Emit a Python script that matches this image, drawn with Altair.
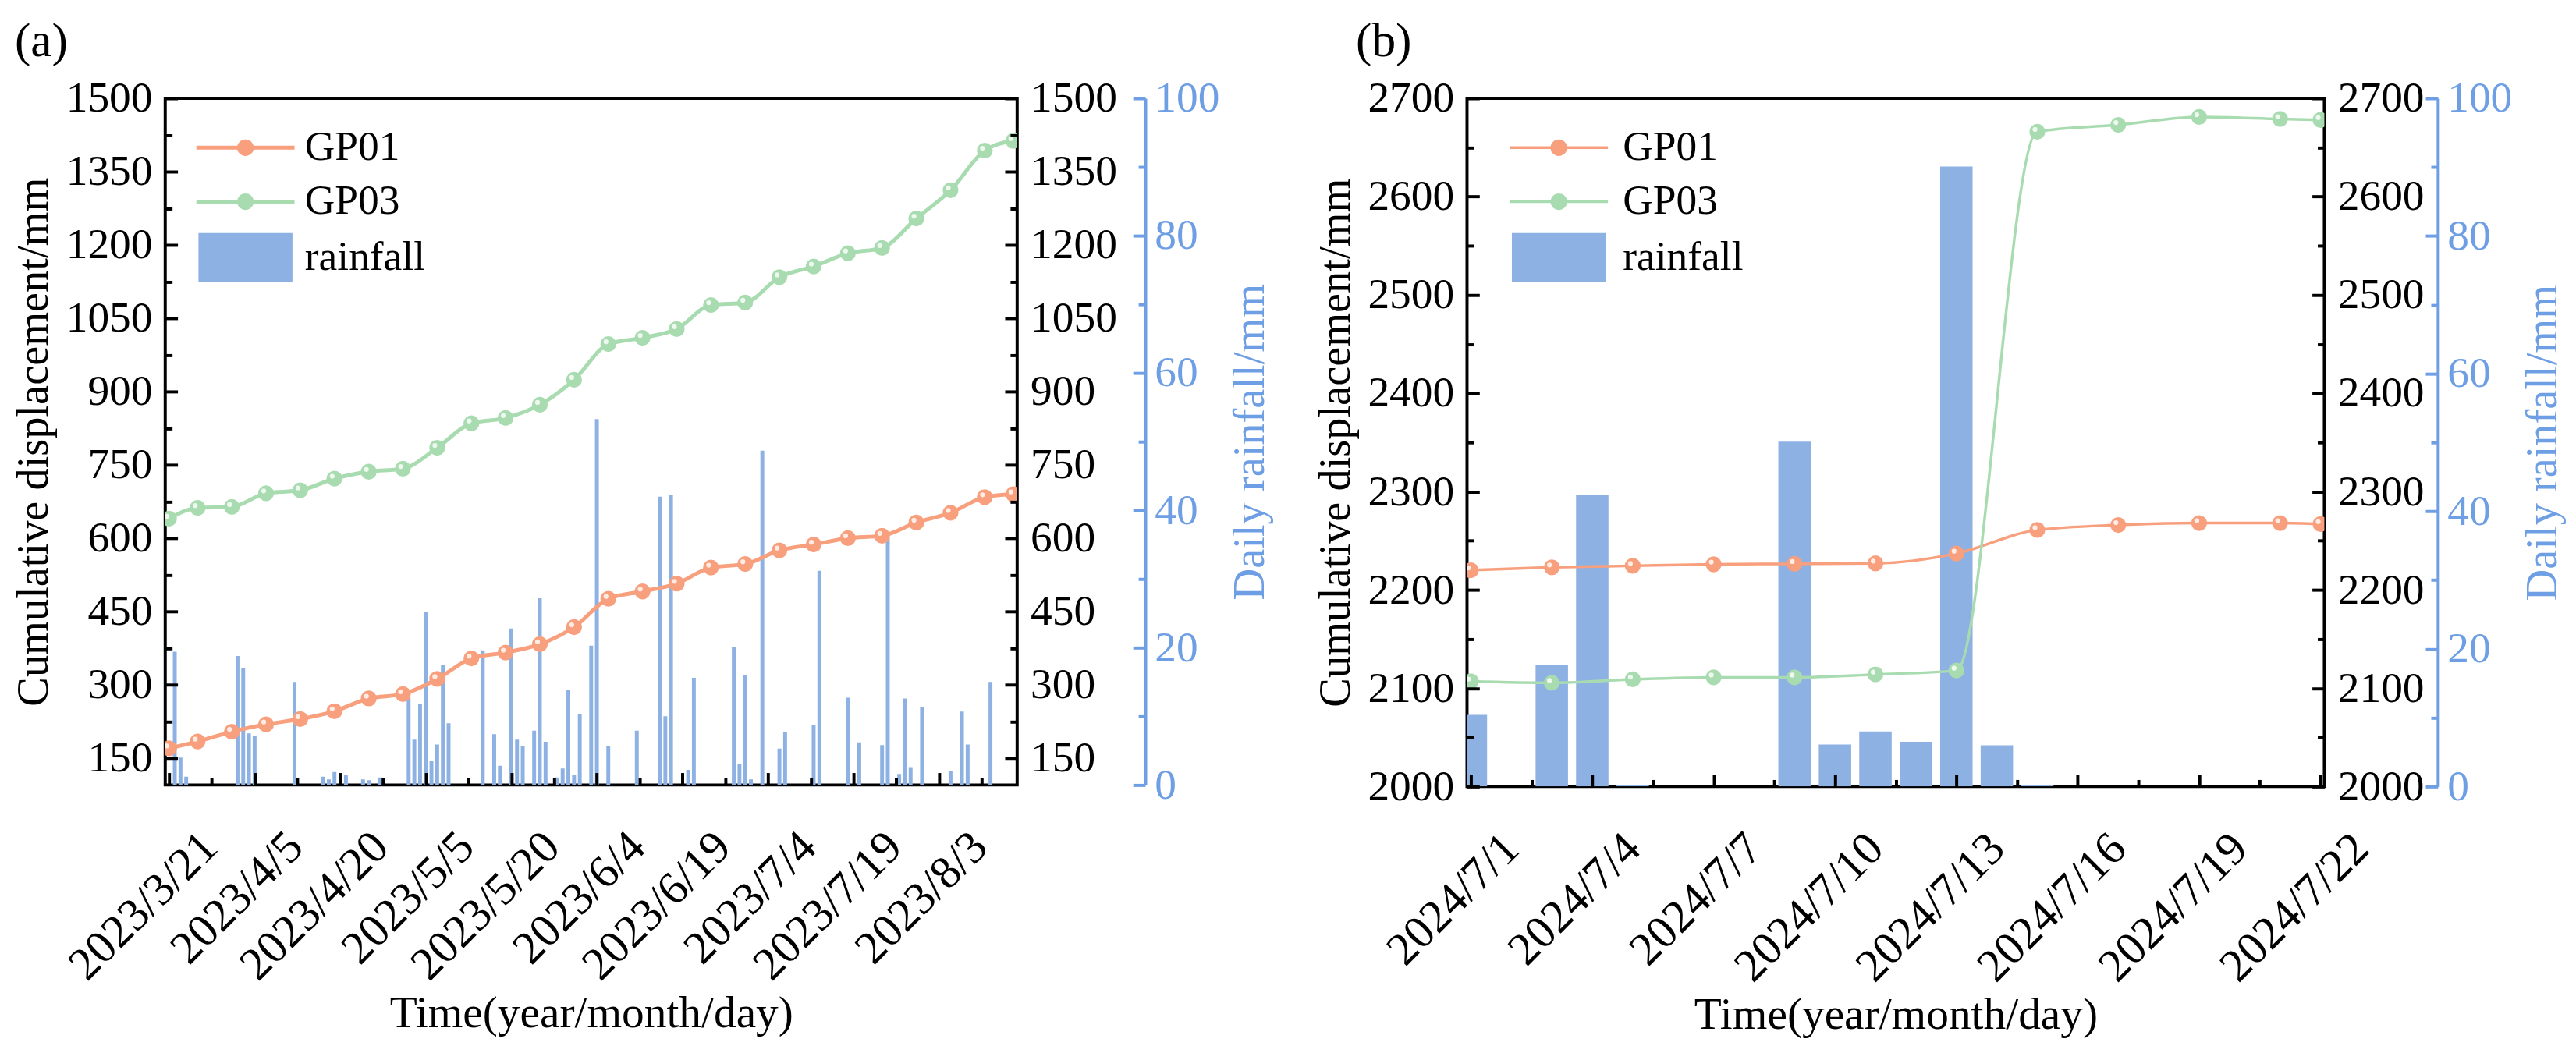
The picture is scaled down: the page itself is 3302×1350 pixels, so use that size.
import altair as alt
import pandas as pd

FONT = "Liberation Serif"
ORANGE = "#F89F7E"
GREEN = "#A8DCB0"
BAR = "#8DB1E3"
BLUE = "#6E9EE3"
DAY = 86400000

# ---------------- panel (a) data ----------------
a_dates = ["2023-03-21", "2023-03-26", "2023-04-01", "2023-04-07", "2023-04-13", "2023-04-19",
           "2023-04-25", "2023-05-01", "2023-05-07", "2023-05-13", "2023-05-19", "2023-05-25",
           "2023-05-31", "2023-06-06", "2023-06-12", "2023-06-18", "2023-06-24", "2023-06-30",
           "2023-07-06", "2023-07-12", "2023-07-18", "2023-07-24", "2023-07-30", "2023-08-05",
           "2023-08-11", "2023-08-16"]
a_gp01 = [170, 184, 204, 219, 230, 246, 272, 281, 312, 354, 366, 383, 418, 476, 491, 507,
          540, 547, 575, 587, 600, 605, 632, 652, 684, 690]
a_gp03 = [640, 662, 664, 692, 698, 722, 736, 742, 785, 835, 846, 873, 924, 997, 1010, 1028,
          1077, 1082, 1134, 1156, 1183, 1194, 1254, 1312, 1393, 1413]
a_rain_dates = ["2023-03-22", "2023-03-23", "2023-03-24", "2023-04-02", "2023-04-03", "2023-04-04",
                "2023-04-05", "2023-04-12", "2023-04-17", "2023-04-18", "2023-04-19", "2023-04-21",
                "2023-04-24", "2023-04-25", "2023-04-27", "2023-05-02", "2023-05-03", "2023-05-04",
                "2023-05-05", "2023-05-06", "2023-05-07", "2023-05-08", "2023-05-09", "2023-05-15",
                "2023-05-17", "2023-05-18", "2023-05-20", "2023-05-21", "2023-05-22", "2023-05-24",
                "2023-05-25", "2023-05-26", "2023-05-28", "2023-05-29", "2023-05-30", "2023-05-31",
                "2023-06-01", "2023-06-03", "2023-06-04", "2023-06-06", "2023-06-11", "2023-06-15",
                "2023-06-16", "2023-06-17", "2023-06-20", "2023-06-21", "2023-06-28", "2023-06-29",
                "2023-06-30", "2023-07-01", "2023-07-03", "2023-07-06", "2023-07-07", "2023-07-12",
                "2023-07-13", "2023-07-18", "2023-07-20", "2023-07-24", "2023-07-25", "2023-07-27",
                "2023-07-28", "2023-07-29", "2023-07-31", "2023-08-05", "2023-08-07", "2023-08-08",
                "2023-08-12"]
a_rain = [19.4, 4.0, 1.2, 18.8, 17.0, 7.5,
          7.2, 15.0, 1.2, 0.8, 1.9, 1.5,
          0.8, 0.7, 1.1, 12.7, 6.6, 11.8,
          25.2, 3.5, 5.9, 17.5, 9.0, 19.6,
          7.4, 2.8, 22.8, 6.6, 5.7, 7.9,
          27.2, 6.3, 1.1, 2.4, 13.8, 1.5,
          10.3, 20.3, 53.3, 5.6, 7.9, 42.0,
          10.0, 42.3, 2.2, 15.6, 20.1, 3.0,
          16.0, 0.8, 48.7, 5.3, 7.7, 8.8,
          31.2, 12.7, 6.2, 5.8, 36.0, 1.6,
          12.6, 2.6, 11.3, 2.0, 10.7, 5.9,
          15.0]

# ---------------- panel (b) data ----------------
b_dates = ["2024-07-01", "2024-07-03", "2024-07-05", "2024-07-07", "2024-07-09", "2024-07-11",
           "2024-07-13", "2024-07-15", "2024-07-17", "2024-07-19", "2024-07-21", "2024-07-22"]
b_gp01 = [2220, 2223, 2224.5, 2226, 2226.5, 2227, 2237, 2261, 2266, 2268, 2268, 2267]
b_gp03 = [2107, 2105.5, 2109, 2111, 2111, 2114, 2118, 2666, 2673, 2681, 2679, 2678]
b_rain_dates = ["2024-07-01", "2024-07-03", "2024-07-04", "2024-07-05", "2024-07-09", "2024-07-10",
                "2024-07-11", "2024-07-12", "2024-07-13", "2024-07-14", "2024-07-15"]
b_rain = [10.4, 17.7, 42.4, 0.2, 50.1, 6.1, 8.0, 6.5, 90.1, 6.0, 0.2]

series_names = ["GP01", "GP03", "rainfall"]
series_colors = [ORANGE, GREEN, BAR]


def ms(d):
    return int(pd.Timestamp(d, tz="UTC").value // 10**6)


def line_path(h):
    # horizontal stroke drawn as thin filled bar, with a filled circle in the middle
    return (f"M-2.12,-{h}L2.12,-{h}L2.12,{h}L-2.12,{h}Z"
            "M0.36,0A0.36,0.36,0,1,1,-0.36,0A0.36,0.36,0,1,1,0.36,0Z")


RECTPATH = "M-2.03,-1.05L2.03,-1.05L2.03,1.05L-2.03,1.05Z"


def cond(test, major, minor):
    return {"condition": {"test": test, "value": major}, "value": minor}


def panel(dates, gp01, gp03, rdates, rain, start, end, major_days, minor_days,
          ydom, ystep, yminor, width, height, bar_size, line_w, blue_off, label, title_dx,
          leg_x, leg_y, leg_off):
    t0, t1 = ms(start), ms(end)
    n = int((t1 - t0) / (minor_days * DAY)) + 1
    xvals = [t0 + int(k * minor_days * DAY) for k in range(n) if t0 + k * minor_days * DAY <= t1]
    xtest = f"(datum.value - {t0}) % {int(major_days * DAY)} == 0"
    xaxis = alt.Axis(
        values=xvals,
        labelExpr=f"{xtest} ? utcFormat(datum.value, '%Y/%-m/%-d') : ''",
        labelAngle=315, labelAlign="right", labelBaseline="top",
        labelFont=FONT, labelFontSize=60, labelColor="black", labelPadding=66, labelOffset=32,
        labelFlush=False, labelOverlap=False, labelBound=False, labelLimit=1000,
        tickSize=cond(xtest, -16, -9), tickColor="black", tickWidth=4,
        domain=False, grid=False, zindex=2,
        title="Time(year/month/day)", titleFont=FONT, titleFontSize=58,
        titleFontWeight="normal", titleColor="black", titleY=268, titleBaseline="top",
    )
    xs = alt.Scale(type="utc", domain=[t0, t1])

    ylo, yhi = ydom
    first = (int(ylo) // yminor + 1) * yminor if ylo % yminor else int(ylo)
    yvals = list(range(first, yhi + 1, yminor))
    ytest = f"datum.value % {ystep} == 0"

    def disp_axis(orient, show_title):
        kw = dict(
            orient=orient, values=yvals, format="d",
            labelExpr=f"{ytest} ? datum.label : ''",
            labelFont=FONT, labelFontSize=56, labelColor="black", labelPadding=33,
            labelFlush=False, labelOverlap=False,
            tickSize=cond(ytest, -16, -9), tickColor="black", tickWidth=4,
            domain=False, grid=False, zindex=2,
        )
        if show_title:
            kw.update(title="Cumulative displacement/mm", titleFont=FONT, titleFontSize=57,
                      titleFontWeight="normal", titleColor="black", titlePadding=12)
        else:
            kw.update(title=None)
        return alt.Axis(**kw)

    ys = alt.Scale(domain=[ylo, yhi], nice=False, zero=False)

    blue_axis = alt.Axis(
        orient="right", offset=blue_off, values=list(range(0, 101, 10)), format="d",
        labelExpr="datum.value % 20 == 0 ? datum.label : ''",
        labelFont=FONT, labelFontSize=56, labelColor=BLUE, labelPadding=28,
        labelFlush=False, labelOverlap=False,
        tickSize=cond("datum.value % 20 == 0", -16, -9), tickColor=BLUE, tickWidth=4,
        domain=True, domainColor=BLUE, domainWidth=4, grid=False, zindex=2,
        title="Daily rainfall/mm", titleFont=FONT, titleFontSize=57, titleFontWeight="normal",
        titleColor=BLUE, titleAngle=270, titleBaseline="top", titlePadding=12,
    )

    line_df = pd.DataFrame({
        "date": dates + dates,
        "value": gp01 + gp03,
        "series": ["GP01"] * len(dates) + ["GP03"] * len(dates),
    })
    rain_df = pd.DataFrame({"date": rdates, "rain": rain})

    color = alt.Color("series:N", scale=alt.Scale(domain=series_names, range=series_colors),
                      legend=None)
    X = alt.X("date:T", scale=xs, axis=xaxis)
    Y = alt.Y("value:Q", scale=ys, axis=disp_axis("left", True))

    bars = alt.Chart(rain_df).mark_bar(size=bar_size, color=BAR, clip=True).encode(
        x=X, y=alt.Y("rain:Q", scale=alt.Scale(domain=[0, 100], nice=False), axis=blue_axis)
    )

    base = alt.Chart(line_df)
    lines = base.mark_line(interpolate="monotone", strokeWidth=line_w, clip=True).encode(
        x=X, y=Y, color=color, detail="series:N")
    pts = base.mark_circle(size=420, opacity=1, clip=True).encode(x=X, y=Y, color=color)
    hl = base.mark_circle(size=40, opacity=0.8, color="white", clip=True).encode(
        x=X, y=Y, xOffset=alt.value(-3), yOffset=alt.value(-3))

    lp = line_path(round(line_w / 60.0, 3))
    leg = alt.Legend(
        title=None, orient="none", legendX=leg_x, legendY=leg_y,
        labelFont=FONT, labelFontSize=54, labelColor="black",
        symbolSize=3600, symbolStrokeWidth=0, symbolOpacity=1, labelOffset=leg_off,
        rowPadding=13, padding=0,
    )
    legend_layer = base.mark_point(filled=True, opacity=0, size=10).encode(
        x=X, y=Y,
        fill=alt.Fill("series:N", scale=alt.Scale(domain=series_names, range=series_colors),
                      legend=leg),
        shape=alt.Shape("series:N", scale=alt.Scale(domain=series_names,
                                                    range=[lp, lp, RECTPATH]),
                        legend=leg),
    )

    disp = alt.layer(lines, pts, hl, legend_layer)

    right = base.mark_point(opacity=0).encode(
        x=X, y=alt.Y("value:Q", scale=ys, axis=disp_axis("right", False)))

    chart = alt.layer(bars, disp, right).resolve_scale(y="independent").properties(
        width=width, height=height,
        title=alt.TitleParams(label, anchor="start", frame="bounds", font=FONT, fontSize=62,
                              fontWeight="normal", color="black", offset=14, dx=title_dx),
    )
    return chart


chart_a = panel(a_dates, a_gp01, a_gp03, a_rain_dates, a_rain, "2023-03-21", "2023-08-16",
                15, 7.5, (95, 1500), 150, 75, 1104, 890, 5, 5, 166, "(a)", 4, 74, 34, 47)
chart_b = panel(b_dates, b_gp01, b_gp03, b_rain_dates, b_rain, "2024-07-01", "2024-07-22",
                3, 1.5, (2000, 2700), 100, 50, 1111, 892, 42, 3.5, 147, "(b)", 55, 89, 34, 53)

chart = alt.hconcat(chart_a, chart_b, spacing=50).resolve_scale(
    fill="independent", shape="independent"
).resolve_legend(fill="independent", shape="independent").configure_view(
    stroke="black", strokeWidth=4
)

chart.save("out.html", embed_options={"renderer": "svg", "actions": False})
